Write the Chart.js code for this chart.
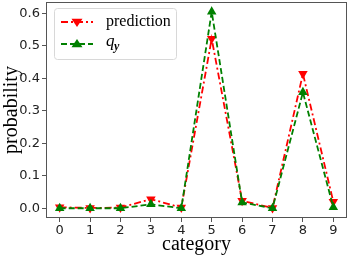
<!DOCTYPE html>
<html>
<head>
<meta charset="utf-8">
<script src="https://cdn.jsdelivr.net/npm/chart.js@4/dist/chart.umd.min.js"></script>
<style>
  html, body { margin: 0; padding: 0; background: #fff; }
  #wrap { width: 349px; height: 257px; }
</style>
</head>
<body>
<div id="wrap"><canvas id="chart" width="349" height="257"></canvas></div>
<script>
// --- 数据 ---
const categories = [0, 1, 2, 3, 4, 5, 6, 7, 8, 9];
const prediction = [0.003, 0.001, 0.002, 0.028, 0.002, 0.522, 0.023, 0.001, 0.414, 0.02];
const qy = [0.0, 0.0, 0.0, 0.012, 0.0, 0.605, 0.018, 0.0, 0.357, 0.003];
const yTicks = [0.0, 0.1, 0.2, 0.3, 0.4, 0.5, 0.6];

const RED = '#ff0000';
const GREEN = '#008000';
const SPINE = '#555555';
const SERIF = '"Liberation Serif", "Times New Roman", serif';

function toPoints(vals) {
    return categories.map((c, i) => ({ x: c, y: vals[i] }));
}

// 外框 + 图例
const framePlugin = {
    id: 'frame',
    afterDraw(chart) {
        const { ctx, chartArea: a } = chart;
        ctx.save();
        ctx.strokeStyle = SPINE;
        ctx.lineWidth = 1;
        ctx.strokeRect(a.left + 0.5, a.top + 0.5, a.right - a.left - 1, a.bottom - a.top - 1);

        // legend box
        const bx = 54, by = 8, bw = 122, bh = 51;
        ctx.fillStyle = 'rgba(255,255,255,0.8)';
        ctx.strokeStyle = '#d8d8d8';
        ctx.beginPath();
        ctx.roundRect(bx + 0.5, by + 0.5, bw, bh, 3);
        ctx.fill();
        ctx.stroke();

        const items = [
            { color: RED, dash: [7, 3, 2, 3], down: true, y: 22 },
            { color: GREEN, dash: [6, 3], down: false, y: 44 }
        ];
        items.forEach(it => {
            ctx.strokeStyle = it.color;
            ctx.lineWidth = 1.8;
            ctx.setLineDash(it.dash);
            ctx.beginPath();
            ctx.moveTo(61, it.y);
            ctx.lineTo(93, it.y);
            ctx.stroke();
            ctx.setLineDash([]);
            ctx.fillStyle = it.color;
            ctx.beginPath();
            const r = 5.5, cx = 77;
            if (it.down) {
                ctx.moveTo(cx - r, it.y - r * 0.6);
                ctx.lineTo(cx + r, it.y - r * 0.6);
                ctx.lineTo(cx, it.y + r * 0.9);
            } else {
                ctx.moveTo(cx - r, it.y + r * 0.6);
                ctx.lineTo(cx + r, it.y + r * 0.6);
                ctx.lineTo(cx, it.y - r * 0.9);
            }
            ctx.closePath();
            ctx.fill();
        });
        ctx.fillStyle = '#000';
        ctx.textBaseline = 'middle';
        ctx.font = '16px ' + SERIF;
        ctx.fillText('prediction', 106, 22);
        ctx.font = 'italic 17px ' + SERIF;
        ctx.fillText('q', 106, 42);
        ctx.font = 'italic bold 12px ' + SERIF;
        ctx.fillText('y', 114, 47);
        ctx.restore();
    }
};

new Chart(document.getElementById('chart'), {
    type: 'line',
    data: {
        datasets: [
            {
                label: 'prediction',
                data: toPoints(prediction),
                borderColor: RED,
                backgroundColor: RED,
                borderWidth: 1.8,
                borderDash: [7, 3, 2, 3],
                pointStyle: 'triangle',
                rotation: 180,
                pointRadius: 5.5,
                pointBorderWidth: 0,
                order: 2
            },
            {
                label: 'q_y',
                data: toPoints(qy),
                borderColor: GREEN,
                backgroundColor: GREEN,
                borderWidth: 1.8,
                borderDash: [6, 3],
                pointStyle: 'triangle',
                pointRadius: 5.5,
                pointBorderWidth: 0,
                order: 1
            }
        ]
    },
    options: {
        responsive: false,
        animation: false,
        layout: { autoPadding: false, padding: { top: 2, right: 2, left: 0, bottom: 0 } },
        plugins: { legend: { display: false }, tooltip: { enabled: false } },
        scales: {
            x: {
                type: 'linear',
                min: -0.45,
                max: 9.45,
                afterBuildTicks: s => { s.ticks = categories.map(v => ({ value: v })); },
                afterFit: s => { s.height = 39; s.paddingLeft = 0; s.paddingRight = 0; },
                border: { display: false },
                grid: { drawOnChartArea: false, drawTicks: true, tickLength: 4, color: SPINE },
                ticks: {
                    color: '#222',
                    font: { family: '"DejaVu Sans", sans-serif', size: 13 },
                    padding: 1,
                    maxRotation: 0
                },
                title: {
                    display: true,
                    text: 'category',
                    color: '#000',
                    font: { family: SERIF, size: 20 },
                    padding: { top: 0, bottom: 0 }
                }
            },
            y: {
                min: -0.03,
                max: 0.635,
                afterBuildTicks: s => { s.ticks = yTicks.map(v => ({ value: v })); },
                afterFit: s => { s.width = 46; s.paddingTop = 0; s.paddingBottom = 0; },
                border: { display: false },
                grid: { drawOnChartArea: false, drawTicks: true, tickLength: 4, color: SPINE },
                ticks: {
                    color: '#222',
                    font: { family: '"DejaVu Sans", sans-serif', size: 13 },
                    padding: 2,
                    callback: v => v.toFixed(1)
                },
                title: {
                    display: true,
                    text: 'probability',
                    color: '#000',
                    font: { family: SERIF, size: 20 },
                    padding: { top: 0, bottom: 0 }
                }
            }
        }
    },
    plugins: [framePlugin]
});
</script>
</body>
</html>
